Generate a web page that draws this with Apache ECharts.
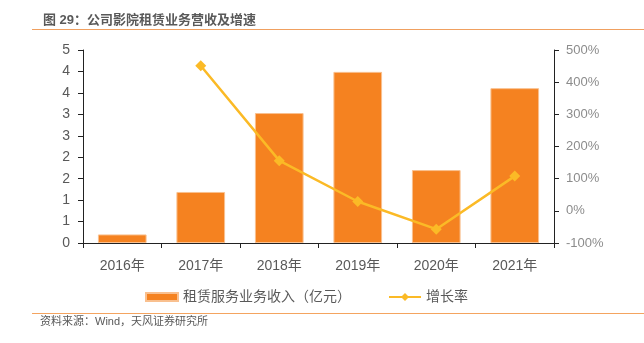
<!DOCTYPE html>
<html><head><meta charset="utf-8">
<script src="https://cdn.jsdelivr.net/npm/echarts@6/dist/echarts.min.js"></script>
<style>html,body{margin:0;padding:0;background:#fff}#c{width:644px;height:343px}</style>
</head><body><div id="c"></div>
<script>
var categories = ['2016年','2017年','2018年','2019年','2020年','2021年'];
var revenue = [0.20, 1.19, 3.03, 3.99, 1.70, 3.61];
var growth = [null, 451, 156, 29, -57, 108];
var titleText = '图 29：公司影院租赁业务营收及增速';
var sourceText = '资料来源：Wind，天风证券研究所';
var seriesNames = ['租赁服务业务收入（亿元）', '增长率'];

var font = '"Liberation Sans","Noto Sans CJK SC",sans-serif';
var chart = echarts.init(document.getElementById('c'), null, {renderer:'canvas'});
chart.setOption({
  animation:false,
  backgroundColor:'#fff',
  title:{text:titleText,left:38,top:9,textStyle:{fontSize:13,fontWeight:'bold',color:'#595959',fontFamily:font}},
  graphic:[
    {type:'line',shape:{x1:32,y1:29.5,x2:644,y2:29.5},style:{stroke:'#F0A060',lineWidth:1}},
    {type:'line',shape:{x1:32,y1:313.5,x2:644,y2:313.5},style:{stroke:'#F4A460',lineWidth:1}},
    {type:'text',left:40,top:316,style:{text:sourceText,fontSize:11,fill:'#595959',fontFamily:font}}
  ],
  legend:[
    {data:[seriesNames[0]],left:145,top:290,padding:0,itemWidth:32,itemHeight:8,icon:'rect',itemGap:4,
     textStyle:{fontSize:14,color:'#595959',fontFamily:font}},
    {data:[seriesNames[1]],left:388,top:290,padding:0,itemWidth:32,itemHeight:10,
     textStyle:{fontSize:14,color:'#595959',fontFamily:font}}
  ],
  grid:{left:83,right:90,top:50,bottom:100},
  xAxis:{type:'category',data:categories,
    axisLine:{lineStyle:{color:'#222',width:1}},
    axisTick:{show:true,length:5,lineStyle:{color:'#222'}},
    axisLabel:{fontSize:14,color:'#595959',margin:16,fontFamily:font}},
  yAxis:[
    {type:'value',min:0,max:4.5,interval:0.5,
     axisLine:{show:true,lineStyle:{color:'#222'}},
     axisTick:{show:true,length:5,lineStyle:{color:'#222'}},
     splitLine:{show:false},
     axisLabel:{fontSize:14,color:'#595959',margin:13,fontFamily:font,formatter:function(v){return String(Math.round(v));}}},
    {type:'value',min:-100,max:500,interval:100,position:'right',
     axisLine:{show:true,lineStyle:{color:'#222'}},
     axisTick:{show:true,length:5,lineStyle:{color:'#222'}},
     splitLine:{show:false},
     axisLabel:{fontSize:13,color:'#8c8c8c',margin:12,fontFamily:font,formatter:function(v){return v+'%';}}}
  ],
  series:[
    {name:seriesNames[0],type:'bar',data:revenue,barWidth:'62%',yAxisIndex:0,
     itemStyle:{color:'#F58220',borderColor:'#F9C08F',borderWidth:1}},
    {name:seriesNames[1],type:'line',data:growth,yAxisIndex:1,symbol:'diamond',symbolSize:11,
     lineStyle:{color:'#FBBA26',width:2.5},itemStyle:{color:'#FBBA26'}}
  ]
});
</script></body></html>
